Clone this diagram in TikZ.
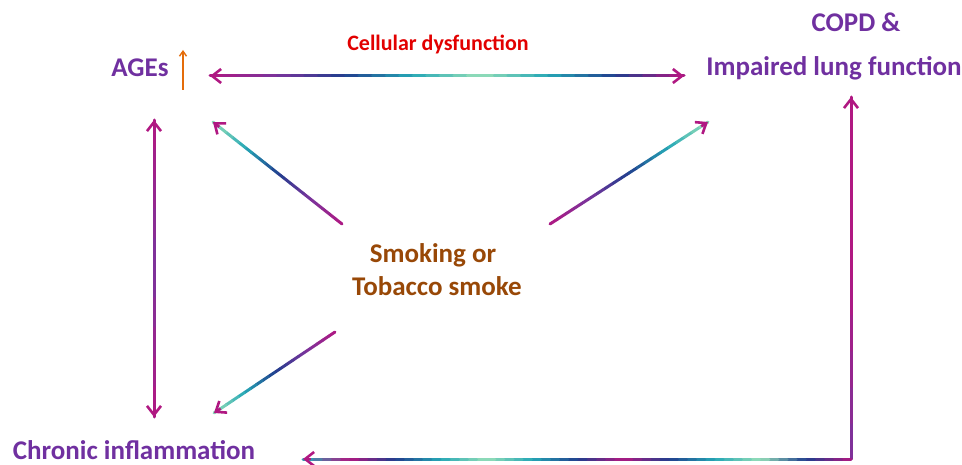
\documentclass[tikz,border=0pt]{standalone}
\usepackage{fontspec}
\setmainfont{Carlito}
\usetikzlibrary{arrows.meta, calc}
\definecolor{copdpurple}{RGB}{112, 48, 160}
\definecolor{smokebrown}{RGB}{152, 72, 7}
\definecolor{dysred}{RGB}{226, 0, 0}
\definecolor{agesorange}{RGB}{228, 108, 10}
\definecolor{cmag}{RGB}{176, 24, 130}
\definecolor{cpur}{RGB}{122, 52, 156}
\definecolor{cnavy}{RGB}{32, 62, 142}
\definecolor{cteal}{RGB}{38, 168, 182}
\definecolor{cmint}{RGB}{150, 222, 184}

% crayon-like connector: #1 from, #2 to, #3 number of gaps, #4 colour stops
\newcommand{\crayon}[4]{%
  \foreach \cb [count=\j, remember=\cb as \ca (initially cmag)] in {#4} {
    \ifnum\j>1
      \foreach \s in {0,...,4} {
        \pgfmathsetmacro{\ta}{(\j-2+\s/5)/#3}
        \pgfmathsetmacro{\tb}{(\j-2+(\s+1)/5)/#3}
        \pgfmathtruncatemacro{\pc}{90-\s*20}
        \draw[crayonline, draw=\ca!\pc!\cb] ($(#1)!\ta!(#2)$) -- ($(#1)!\tb!(#2)$);
      }
    \fi
  }
}

\begin{document}
\begin{tikzpicture}[
  x=1pt, y=-1pt,
  lbl/.style={font=\fontsize{27}{31}\selectfont\bfseries, text=copdpurple, anchor=base, inner sep=0pt},
  smoketxt/.style={lbl, text=smokebrown},
  dystxt/.style={font=\fontsize{22}{26}\selectfont\bfseries, text=dysred, anchor=base, inner sep=0pt},
  crayonline/.style={line width=3pt, line cap=round},
  tipline/.style={-{Straight Barb[length=9pt, width=14pt]}, line width=2.6pt, cmag},
]
  \useasboundingbox (0,0) rectangle (962,465);

  % texts
  \node[lbl] (ages) at (140,77) {AGEs};
  \node[dystxt] (dys) at (438,51) {Cellular dysfunction};
  \node[lbl] (copd) at (856,32) {COPD \&};
  \node[lbl] (lung) at (834,76) {Impaired lung function};
  \node[smoketxt] (smoke1) at (433,263) {Smoking or};
  \node[smoketxt] (smoke2) at (437,296) {Tobacco smoke};
  \node[lbl] (chronic) at (134,459) {Chronic inflammation};

  % connector ends
  \coordinate (agesE) at (210,76);
  \coordinate (copdW) at (684,76);
  \coordinate (smokeNW) at (342,224);
  \coordinate (agesSE) at (213,122);
  \coordinate (smokeNE) at (550,224);
  \coordinate (copdSW) at (708,122);
  \coordinate (smokeSW) at (335,332);
  \coordinate (chronicNE) at (214,413);
  \coordinate (agesS) at (154,120);
  \coordinate (chronicN) at (154,417);
  \coordinate (copdS) at (851,97);
  \coordinate (corner) at (851,459);
  \coordinate (chronicE) at (303,459);
  \coordinate (upS) at (183,90);
  \coordinate (upN) at (183,50);

  % AGEs up
  \draw[-{Straight Barb[length=5pt, width=7pt]}, line width=1.4pt, agesorange] (upS) -- (upN);

  % crayon connectors
  \crayon{agesE}{copdW}{7}{cmag, cpur, cnavy, cteal, cmint, cteal, cnavy, cmag}
  \crayon{smokeNW}{agesSE}{4}{cmag, cpur, cnavy, cteal, cmint}
  \crayon{smokeNE}{copdSW}{4}{cmag, cpur, cnavy, cteal, cmint}
  \crayon{smokeSW}{chronicNE}{4}{cmag, cpur, cnavy, cteal, cmint}
  \crayon{agesS}{chronicN}{2}{cmag, cpur, cmag}
  \crayon{corner}{copdS}{2}{cpur, cmag, cmag}
  \crayon{corner}{chronicE}{12}{cmag, cnavy, cmint, cteal, cnavy, cmag, cnavy, cteal, cmint, cteal, cnavy, cmag, cteal}

  % arrow heads
  \draw[tipline] ($(agesE)!8pt!(copdW)$) -- (agesE);
  \draw[tipline] ($(copdW)!8pt!(agesE)$) -- (copdW);
  \draw[tipline] ($(agesSE)!8pt!(smokeNW)$) -- (agesSE);
  \draw[tipline] ($(copdSW)!8pt!(smokeNE)$) -- (copdSW);
  \draw[tipline] ($(chronicNE)!8pt!(smokeSW)$) -- (chronicNE);
  \draw[tipline] ($(agesS)!8pt!(chronicN)$) -- (agesS);
  \draw[tipline] ($(chronicN)!8pt!(agesS)$) -- (chronicN);
  \draw[tipline] ($(copdS)!8pt!(corner)$) -- (copdS);
  \draw[tipline] ($(chronicE)!8pt!(corner)$) -- (chronicE);
\end{tikzpicture}
\end{document}
